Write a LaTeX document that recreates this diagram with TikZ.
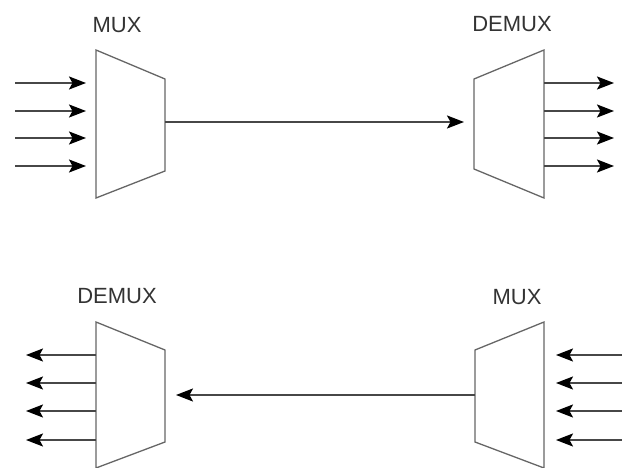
\documentclass[tikz,border=0pt]{standalone}
\usepackage{fontspec}
\setmainfont{Liberation Sans}
\usetikzlibrary{arrows.meta}
\begin{document}
\begin{tikzpicture}[x=1pt,y=-1pt,
  box/.style={draw=black!60, line width=1.3pt, fill=white},
  wire/.style={draw=black!72, line width=2pt},
  sig/.style={wire, -{Stealth[length=17pt,width=13pt,inset=3.5pt,color=black]}},
  lbl/.style={font=\fontsize{22}{24}\selectfont, text=black!80}]
\useasboundingbox (0,0) rectangle (622,468);

% ---------- upper link: MUX -> DEMUX ----------
\draw[box] (96,50) -- (165,79) -- (165,171) -- (96,198) -- cycle;
\coordinate (mux1out) at (165,122);
\draw[box] (474,79) -- (544,50) -- (544,198) -- (474,169) -- cycle;
\coordinate (demux1in) at (474,122);
\node[lbl] (muxA) at (117,25) {MUX};
\node[lbl] (demuxA) at (512,24) {DEMUX};

\foreach \y [count=\i] in {83,111,138,166} {
  \coordinate (inA\i) at (15,\y);
  \coordinate (muxAin\i) at (96,\y);
  \draw[sig, shorten >=10pt] (inA\i) -- (muxAin\i);
  \coordinate (demuxAout\i) at (544,\y);
  \coordinate (outA\i) at (614,\y);
  \draw[sig] (demuxAout\i) -- (outA\i);
}
\draw[sig, shorten >=10pt] (mux1out) -- (demux1in);

% ---------- lower link: MUX -> DEMUX, right to left ----------
\draw[box] (96,322) -- (165,350) -- (165,442) -- (96,468) -- cycle;
\coordinate (demux2out) at (165,395);
\draw[box] (475,350) -- (544,322) -- (544,468) -- (475,442) -- cycle;
\coordinate (mux2in) at (475,395);
\node[lbl] (demuxB) at (117,296) {DEMUX};
\node[lbl] (muxB) at (517,297) {MUX};

\foreach \y [count=\i] in {355,383,411,440} {
  \coordinate (demuxBout\i) at (96,\y);
  \coordinate (outB\i) at (26,\y);
  \draw[sig] (demuxBout\i) -- (outB\i);
  \coordinate (inB\i) at (622,\y);
  \coordinate (muxBin\i) at (544,\y);
  \draw[sig, shorten >=12pt] (inB\i) -- (muxBin\i);
}
\draw[sig, shorten >=11pt] (mux2in) -- (demux2out);
\end{tikzpicture}
\end{document}
